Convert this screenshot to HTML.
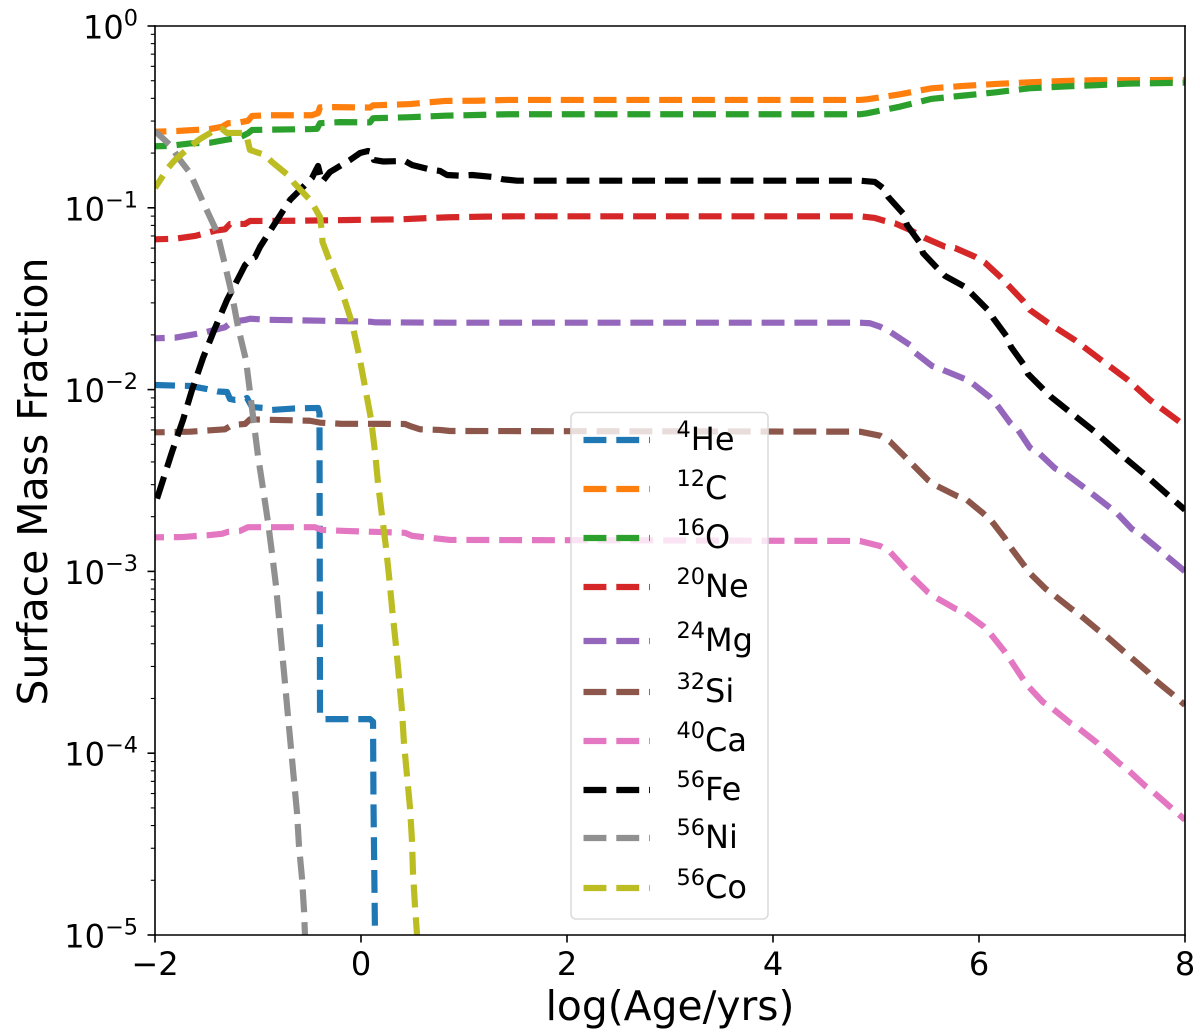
<!DOCTYPE html>
<html lang="en">
<head>
<meta charset="utf-8">
<title>Surface Mass Fraction vs log(Age/yrs)</title>
<style>
  html, body { margin: 0; padding: 0; background: #fff; }
  svg { display: block; }
  text { font-family: "DejaVu Sans", "Liberation Sans", sans-serif; fill: #000; }
</style>
</head>
<body>
<svg id="chart" xmlns="http://www.w3.org/2000/svg" width="1200" height="1035" viewBox="0 0 1200 1035">
  <defs>
    <clipPath id="plot-clip"><rect x="155" y="26" width="1030" height="909"></rect></clipPath>
  </defs>
  <rect x="0" y="0" width="1200" height="1035" fill="#fff"></rect>
  <g id="series-layer" clip-path="url(#plot-clip)"></g>
  <g id="axis-layer"></g>
  <g id="legend-layer"></g>
  <text x="670" y="1020" font-size="40.8" text-anchor="middle">log(Age/yrs)</text>
  <text transform="translate(47 481.5) rotate(-90)" font-size="40.9" text-anchor="middle">Surface Mass Fraction</text>
</svg>
<script>
const he4X = [-2,-1.660,-1.495,-1.388,-1.301,-1.272,-1.223,-1.126,-1.107,-1.058,-0.951,-0.864,-0.641,-0.417,-0.403,-0.398,-0.369,0.087,0.117,0.121,0.136,0.141];
const he4Y = [.0106,.01047,.01007,.00976,.0097,.00888,.00877,.00888,.00899,.00802,.00793,.00773,.00788,.00793,.00744,.000162,.000154,.000154,.000149,.0000553,.00001,.00000685];

const c12X = [-2,-1.786,-1.466,-1.35,-1.29,-1.194,-1.097,-1.058,-0.903,-0.476,-0.417,-0.398,-0.252,0.087,0.117,0.476,0.65,0.816,1.117,1.427,4.845,4.913,5.233,5.534,5.845,6.165,6.485,6.796,7.117,8];
const c12Y = [.262,.2645,.271,.279,.292,.294,.301,.320,.323,.323,.332,.357,.358,.356,.366,.372,.380,.387,.388,.392,.392,.395,.421,.454,.468,.480,.490,.498,.503,.505];

const o16X = [-2,-1.854,-1.66,-1.466,-1.32,-1.175,-1.097,-1.058,-0.903,-0.476,-0.427,-0.398,-0.204,0.087,0.117,0.476,0.816,1.117,1.427,4.845,4.913,5.233,5.534,5.845,6.165,6.485,6.796,7.117,7.437,8];
const o16Y = [.218,.219,.226,.228,.236,.244,.257,.268,.269,.271,.272,.292,.296,.295,.311,.315,.321,.324,.327,.327,.331,.360,.397,.414,.432,.454,.464,.472,.4815,.488];

const ne20X = [-2,-1.806,-1.612,-1.417,-1.320,-1.272,-1.126,-1.078,-0.592,-0.107,0.379,0.670,0.864,1.204,1.495,4.845,4.990,5.087,5.184,5.330,5.476,5.670,5.767,5.961,6.058,6.204,6.282,6.427,6.495,6.670,6.932,7.175,7.437,7.660,7.932,8];
const ne20Y = [.0671,.0676,.0700,.0748,.0762,.0815,.0815,.0846,.0849,.0857,.0864,.0879,.0887,.0894,.0898,.0898,.0879,.0846,.0822,.0755,.0682,.0611,.0601,.0538,.0499,.0418,.0376,.0308,.0274,.0233,.0187,.0147,.0114,.00877,.00675,.00631];

const mg24X = [-2,-1.806,-1.660,-1.515,-1.320,-1.252,-1.126,-1.078,-0.932,-0.592,-0.398,0.087,0.136,0.864,4.845,4.942,5.039,5.136,5.330,5.379,5.544,5.650,5.864,5.932,6.107,6.175,6.301,6.379,6.495,6.592,6.738,6.835,7.029,7.340,7.485,7.583,7.757,7.825,8];
const mg24Y = [.01915,.01930,.01996,.02065,.02203,.02363,.02415,.02455,.02424,.02404,.02393,.02363,.02344,.02333,.02333,.02317,.02218,.02082,.01760,.01596,.01349,.01282,.01144,.01087,.00907,.00823,.00658,.00600,.00479,.00442,.00369,.00347,.00287,.00209,.00171,.00158,.00131,.00121,.00100];

const si32X = [-2,-1.660,-1.466,-1.320,-1.252,-1.126,-1.078,-0.932,-0.495,-0.398,-0.204,0.427,0.495,0.573,0.767,0.864,4.845,5.039,5.136,5.282,5.350,5.505,5.592,5.786,5.883,6.039,6.126,6.252,6.301,6.437,6.495,6.650,6.728,6.903,6.981,7.155,7.223,7.398,7.466,7.641,7.689,7.874,8];
const si32Y = [.00582,.00587,.00597,.00605,.00639,.00647,.00686,.00683,.00674,.00658,.00649,.00647,.00625,.00605,.00600,.00592,.00587,.00558,.00517,.00427,.00390,.00318,.00295,.00260,.00247,.00209,.00188,.00152,.00137,.00108,.000976,.000800,.000741,.000619,.000575,.000476,.000447,.000366,.000340,.000279,.000258,.000212,.000184];

const ca40X = [-2,-1.738,-1.495,-1.350,-1.291,-1.175,-1.097,-0.932,-0.447,-0.379,-0.155,0.427,0.495,0.621,0.767,0.864,4.845,5.039,5.136,5.282,5.350,5.505,5.583,5.777,5.864,6.039,6.107,6.243,6.301,6.417,6.476,6.621,6.709,6.883,6.961,7.146,7.194,7.369,7.437,7.612,7.680,7.854,8];
const ca40Y = [.00154,.001545,.00158,.00161,.00165,.00167,.00175,.00175,.00175,.00169,.00167,.00163,.00157,.00154,.00151,.00149,.00147,.00138,.00128,.00104,.000935,.000767,.000717,.000621,.000593,.000501,.000457,.000366,.000328,.000261,.000234,.000191,.000177,.000147,.000138,.000114,.000107,.0000873,.0000818,.0000662,.0000620,.0000508,.0000430];

const fe56X = [-2,-1.835,-1.728,-1.641,-1.534,-1.417,-1.301,-1.175,-1.126,-1.058,-1.029,-0.981,-0.864,-0.689,-0.476,-0.437,-0.417,-0.379,-0.301,-0.107,-0.010,0.068,0.107,0.126,0.214,0.427,0.495,0.689,0.767,0.835,0.961,1.078,1.282,1.379,1.515,4.845,4.990,5.068,5.117,5.262,5.301,5.427,5.456,5.602,5.670,5.864,5.932,6.087,6.136,6.272,6.311,6.437,6.476,6.631,6.699,6.883,7.126,7.359,7.602,7.835,8];
const fe56Y = [.00232,.00454,.00681,.00995,.01493,.02183,.03112,.0427,.0484,.0530,.0536,.0609,.0775,.1104,.1459,.1614,.1698,.1387,.1574,.1832,.2001,.2053,.2028,.1832,.1798,.1809,.1720,.1614,.1594,.1515,.1502,.1515,.1477,.1435,.1410,.1410,.1387,.1285,.1151,.0933,.0804,.0640,.0564,.0461,.0422,.0367,.0336,.0274,.0248,.0195,.01716,.01366,.01219,.00995,.00912,.00753,.00585,.00448,.00344,.00263,.00218];

const ni56X = [-2,-1.854,-1.757,-1.660,-1.534,-1.398,-1.320,-1.252,-1.194,-1.117,-1.078,-1.039,-1.0,-0.951,-0.903,-0.864,-0.825,-0.796,-0.767,-0.738,-0.709,-0.680,-0.650,-0.621,-0.602,-0.573,-0.553,-0.544,-0.524];
const ni56Y = [.2645,.2216,.1832,.1554,.1076,.0736,.0484,.0331,.0221,.01455,.0097,.00647,.00432,.00284,.00187,.00126,.000832,.000555,.000365,.000243,.000160,.000107,.0000704,.0000469,.0000309,.0000206,.0000136,.00001,.00000685];

const co56X = [-2,-1.874,-1.806,-1.641,-1.563,-1.398,-1.350,-1.301,-1.146,-1.117,-1.097,-1.078,-0.932,-0.864,-0.699,-0.650,-0.485,-0.447,-0.398,-0.379,-0.374,-0.301,-0.184,-0.087,-0.019,0.039,0.097,0.136,0.165,0.204,0.243,0.277,0.306,0.340,0.369,0.398,0.417,0.447,0.476,0.495,0.505,0.524,0.544,0.563];
const co56Y = [.1285,.1656,.1832,.2216,.2390,.2714,.2714,.2580,.2580,.2547,.2301,.2080,.1952,.1786,.1496,.1369,.1090,.0998,.0890,.0736,.0649,.0503,.0344,.0232,.0155,.01034,.00690,.00454,.00307,.00202,.00135,.000886,.000591,.000389,.000259,.000171,.000114,.0000750,.0000500,.0000329,.0000219,.0000145,.00001,.00000685];

const xTickValues = [-2,0,2,4,6,8];
const xTickLabels = ['\u22122','0','2','4','6','8'];
const yTickValues = [1,0.1,0.01,0.001,0.0001,0.00001];
const yTickExponents = ['0','\u22121','\u22122','\u22123','\u22124','\u22125'];
const legendMasses = ['4','12','16','20','24','32','40','56','56','56'];
const legendSymbols = ['He','C','O','Ne','Mg','Si','Ca','Fe','Ni','Co'];
const seriesColors = ['#1f77b4','#ff7f0e','#2ca02c','#d62728','#9467bd','#8c564b','#e377c2','#000000','#909090','#bcbd22'];
const seriesXs = [he4X,c12X,o16X,ne20X,mg24X,si32X,ca40X,fe56X,ni56X,co56X];
const seriesYs = [he4Y,c12Y,o16Y,ne20Y,mg24Y,si32Y,ca40Y,fe56Y,ni56Y,co56Y];

const NS = 'http://www.w3.org/2000/svg';
const plot = {left: 155, right: 1185, top: 26, bottom: 935};
const xMin = -2, xMax = 8, yDecades = 5;
const DASH_ON = 22.9, DASH_OFF = 9.9, LINE_WIDTH = 6.18;
const DASH = DASH_ON + ' ' + DASH_OFF;
/* Dash-phase style only: the pixel where a dash begins on each line. */
const dashPhaseAxis = ['y','x','x','x','x','x','x','x','y','y'];
const dashPhasePixel = [657,856,857,862.7,860,859,860,861.7,628,623];

function xScale(v) { return plot.left + (v - xMin) / (xMax - xMin) * (plot.right - plot.left); }
function yScale(v) { return plot.top - Math.log10(v) / yDecades * (plot.bottom - plot.top); }
function make(tag, attrs, parent) {
  const n = document.createElementNS(NS, tag);
  for (const k in attrs) n.setAttribute(k, attrs[k]);
  parent.appendChild(n);
  return n;
}
function dashOffsetFor(pts, axis, target) {
  const period = DASH_ON + DASH_OFF;
  let len = 0;
  for (let j = 1; j < pts.length; j++) {
    const a = pts[j - 1], b = pts[j];
    const seg = Math.hypot(b[0] - a[0], b[1] - a[1]);
    const ca = axis === 'x' ? a[0] : a[1];
    const cb = axis === 'x' ? b[0] : b[1];
    if (ca <= target && cb >= target && cb > ca) {
      const at = len + seg * (target - ca) / (cb - ca);
      return period - (at % period);
    }
    len += seg;
  }
  return 0;
}

const seriesLayer = document.getElementById('series-layer');
const axisLayer = document.getElementById('axis-layer');
const legendLayer = document.getElementById('legend-layer');

seriesXs.forEach(function (xs, i) {
  const ys = seriesYs[i];
  const coords = xs.map(function (x, j) { return [xScale(x), yScale(ys[j])]; });
  const pts = coords.map(function (c) { return c[0].toFixed(2) + ',' + c[1].toFixed(2); }).join(' ');
  const el = make('polyline', {points: pts, fill: 'none', stroke: seriesColors[i], 'stroke-width': LINE_WIDTH, 'stroke-dasharray': DASH, 'stroke-dashoffset': dashOffsetFor(coords, dashPhaseAxis[i], dashPhasePixel[i]).toFixed(2), 'stroke-linejoin': 'round', 'stroke-linecap': 'butt'}, seriesLayer);
  
  
});

xTickValues.forEach(function (v, i) {
  const px = xScale(v);
  const tick = make('line', {x1: px, x2: px, y1: plot.bottom, y2: plot.bottom + 7.5, stroke: '#000', 'stroke-width': 1.6}, axisLayer);
  
  
  const label = make('text', {x: px, y: 975, 'font-size': 32, 'text-anchor': 'middle'}, axisLayer);
  label.textContent = xTickLabels[i];
  
  
});

yTickValues.forEach(function (v, i) {
  const py = yScale(v);
  const tick = make('line', {x1: plot.left - 7.5, x2: plot.left, y1: py, y2: py, stroke: '#000', 'stroke-width': 1.6}, axisLayer);
  
  
  const label = make('text', {x: 138, y: py + 12.5, 'text-anchor': 'end', 'font-size': 32}, axisLayer);
  
  
  const base = make('tspan', {}, label);
  base.textContent = '10';
  const exp = make('tspan', {'font-size': 22.4, dy: -13}, label);
  exp.textContent = yTickExponents[i];
  if (i < yTickValues.length - 1) {
    for (let m = 2; m <= 9; m++) {
      const my = yScale(v * m / 10);
      const minor = make('line', {x1: plot.left - 4.2, x2: plot.left, y1: my, y2: my, stroke: '#000', 'stroke-width': 1.1}, axisLayer);
      
      
    }
  }
});

const spines = [[plot.left, plot.top, plot.right, plot.top],[plot.left, plot.bottom, plot.right, plot.bottom],[plot.left, plot.top, plot.left, plot.bottom],[plot.right, plot.top, plot.right, plot.bottom]];
spines.forEach(function (s) {
  const sp = make('line', {x1: s[0], y1: s[1], x2: s[2], y2: s[3], stroke: '#000', 'stroke-width': 1.6, 'stroke-linecap': 'square'}, axisLayer);
  
  
});

const legendBox = make('rect', {x: 571, y: 412.5, width: 197, height: 506.5, rx: 5, ry: 5, fill: '#fff', 'fill-opacity': 0.8, stroke: '#dcdcdc', 'stroke-width': 1.6}, legendLayer);



const legendRowY = [440,489,538,587,641,692,741,790,838,888];
legendSymbols.forEach(function (sym, i) {
  const y = legendRowY[i];
  const handle = make('line', {x1: 583.5, x2: 650, y1: y, y2: y, stroke: seriesColors[i], 'stroke-width': LINE_WIDTH, 'stroke-dasharray': DASH}, legendLayer);
  
  
  const label = make('text', {x: 676.5, y: y + 10, 'font-size': 32}, legendLayer);
  
  
  const sup = make('tspan', {'font-size': 22.4, dy: -13}, label);
  sup.textContent = legendMasses[i];
  const main = make('tspan', {dy: 13}, label);
  main.textContent = sym;
});
</script>
</body>
</html>
